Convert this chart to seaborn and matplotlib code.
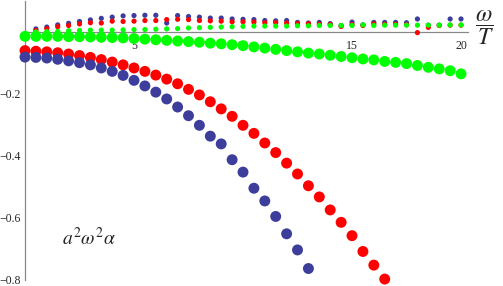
import matplotlib
matplotlib.use("Agg")
import matplotlib.pyplot as plt
import numpy as np
import pandas as pd
import seaborn as sns
from matplotlib.ticker import FixedLocator, NullFormatter

# x grid (omega / T), step 0.5
x_full = np.arange(0, 20.5, 0.5)

# large dots (curves going down)
red_big = [-0.060, -0.062, -0.064, -0.067, -0.071, -0.076, -0.082, -0.089, -0.097, -0.106,
           -0.116, -0.127, -0.139, -0.152, -0.167, -0.185, -0.203, -0.225, -0.248, -0.272,
           -0.301, -0.327, -0.358, -0.389, -0.423, -0.458, -0.496, -0.532, -0.574, -0.614,
           -0.657, -0.708, -0.752, -0.797]
blue_big = [-0.081, -0.082, -0.084, -0.088, -0.093, -0.099, -0.106, -0.116, -0.127, -0.140,
            -0.156, -0.174, -0.194, -0.216, -0.242, -0.270, -0.301, -0.336, -0.361, -0.412,
            -0.452, -0.504, -0.545, -0.595, -0.651, -0.703, -0.763]
green_big = [-0.014, -0.014, -0.014, -0.014, -0.015, -0.015, -0.016, -0.017, -0.018, -0.019,
             -0.021, -0.023, -0.025, -0.027, -0.029, -0.031, -0.033, -0.036, -0.038, -0.041,
             -0.044, -0.048, -0.052, -0.056, -0.060, -0.064, -0.068, -0.071, -0.075, -0.079,
             -0.083, -0.087, -0.090, -0.095, -0.098, -0.102, -0.108, -0.114, -0.119, -0.125,
             -0.135]

# small dots (just above the axis), starting at 0.5
blue_small = [0.010, 0.016, 0.023, 0.028, 0.034, 0.039, 0.044, 0.048, 0.052, 0.053,
              0.054, 0.054, 0.029, 0.053, 0.050, 0.048, 0.045, 0.045, 0.042, 0.041,
              0.040, 0.037, 0.036, 0.037, 0.031, 0.029, 0.031, 0.027, 0.021, 0.032,
              0.023, 0.031, 0.031, 0.031, 0.030, 0.042, 0.022, 0.022, 0.042, 0.042]
red_small = [0.005, 0.011, 0.017, 0.021, 0.026, 0.030, 0.029, 0.035, 0.034, 0.035,
             0.037, 0.037, 0.040, 0.041, 0.040, 0.037, 0.036, 0.035, 0.033, 0.033,
             0.032, 0.030, 0.030, 0.029, 0.027, 0.027, 0.025, 0.024, 0.018, 0.024,
             0.021, 0.026, 0.025, 0.025, 0.024, -0.002, 0.015, 0.021, 0.022, 0.022]
green_small = [0.000, 0.001, 0.002, 0.004, 0.005, 0.006, 0.006, 0.006, 0.007, 0.008,
               0.008, 0.009, 0.010, 0.011, 0.013, 0.014, 0.015, 0.016, 0.017, 0.018,
               0.019, 0.019, 0.019, 0.019, 0.020, 0.020, 0.021, 0.021, 0.021, 0.021,
               0.023, 0.021, 0.022, 0.022, 0.022, 0.022, 0.022, 0.022, 0.023, 0.023]

BLUE = "#3d3d9c"
RED = "#ff0000"
GREEN = "#00ff00"

sns.set_style("white")
plt.rcParams["font.family"] = ["Liberation Serif", "DejaVu Serif"]
plt.rcParams["mathtext.fontset"] = "stix"

fig = plt.figure(figsize=(5.03, 2.86), dpi=100)
ax = fig.add_axes([25 / 503, 1 - 280 / 286, 443 / 503, 279 / 286])

series = [
    (x_full[:len(red_big)], red_big, RED, 62),
    (x_full[:len(blue_big)], blue_big, BLUE, 62),
    (x_full, green_big, GREEN, 62),
    (x_full[1:], blue_small, BLUE, 14),
    (x_full[1:], red_small, RED, 14),
    (x_full[1:], green_small, GREEN, 14),
]
for xs, ys, col, size in series:
    df = pd.DataFrame({"x": xs, "y": ys})
    sns.scatterplot(data=df, x="x", y="y", color=col, s=size, linewidth=0,
                    edgecolor="none", ax=ax, clip_on=False, zorder=3)

ax.set_xlim(0, 20.32)
ax.set_ylim(-0.8, 0.1)
ax.set_xlabel("")
ax.set_ylabel("")

for side in ("top", "right"):
    ax.spines[side].set_visible(False)
ax.spines["left"].set_position(("data", 0))
ax.spines["bottom"].set_position(("data", 0))
for side in ("left", "bottom"):
    ax.spines[side].set_color("#888888")
    ax.spines[side].set_linewidth(0.9)
    ax.spines[side].set_zorder(2)

ax.xaxis.set_major_locator(FixedLocator([5, 10, 15, 20]))
ax.xaxis.set_minor_locator(FixedLocator([v for v in range(1, 21) if v % 5]))
ax.set_xticklabels(["5", "10", "15", "20"])
ax.yaxis.set_major_locator(FixedLocator([-0.8, -0.6, -0.4, -0.2]))
ax.yaxis.set_minor_locator(FixedLocator([-0.75, -0.7, -0.65, -0.55, -0.5, -0.45, -0.35,
                                         -0.3, -0.25, -0.15, -0.1, -0.05, 0.05, 0.1]))
ax.set_yticklabels(["\u22120.8", "\u22120.6", "\u22120.4", "\u22120.2"])
ax.yaxis.set_minor_formatter(NullFormatter())

ax.tick_params(axis="x", which="major", direction="out", length=4, width=0.8,
               color="#888888", labelsize=8.5, pad=2)
ax.tick_params(axis="x", which="minor", direction="out", length=2, width=0.6,
               color="#888888")
ax.tick_params(axis="y", which="major", direction="in", length=4, width=0.8,
               color="#888888", labelsize=8.5, pad=3)
ax.tick_params(axis="y", which="minor", direction="in", length=2, width=0.6,
               color="#888888")

fig.text(484 / 503, 1 - 28 / 286, r"$\dfrac{\omega}{T}$", fontsize=17,
         ha="center", va="center")
fig.text(62 / 503, 1 - 238 / 286, r"$a^2\omega^2\alpha$", fontsize=14,
         ha="left", va="center")

fig.savefig("out.png", dpi=100)
